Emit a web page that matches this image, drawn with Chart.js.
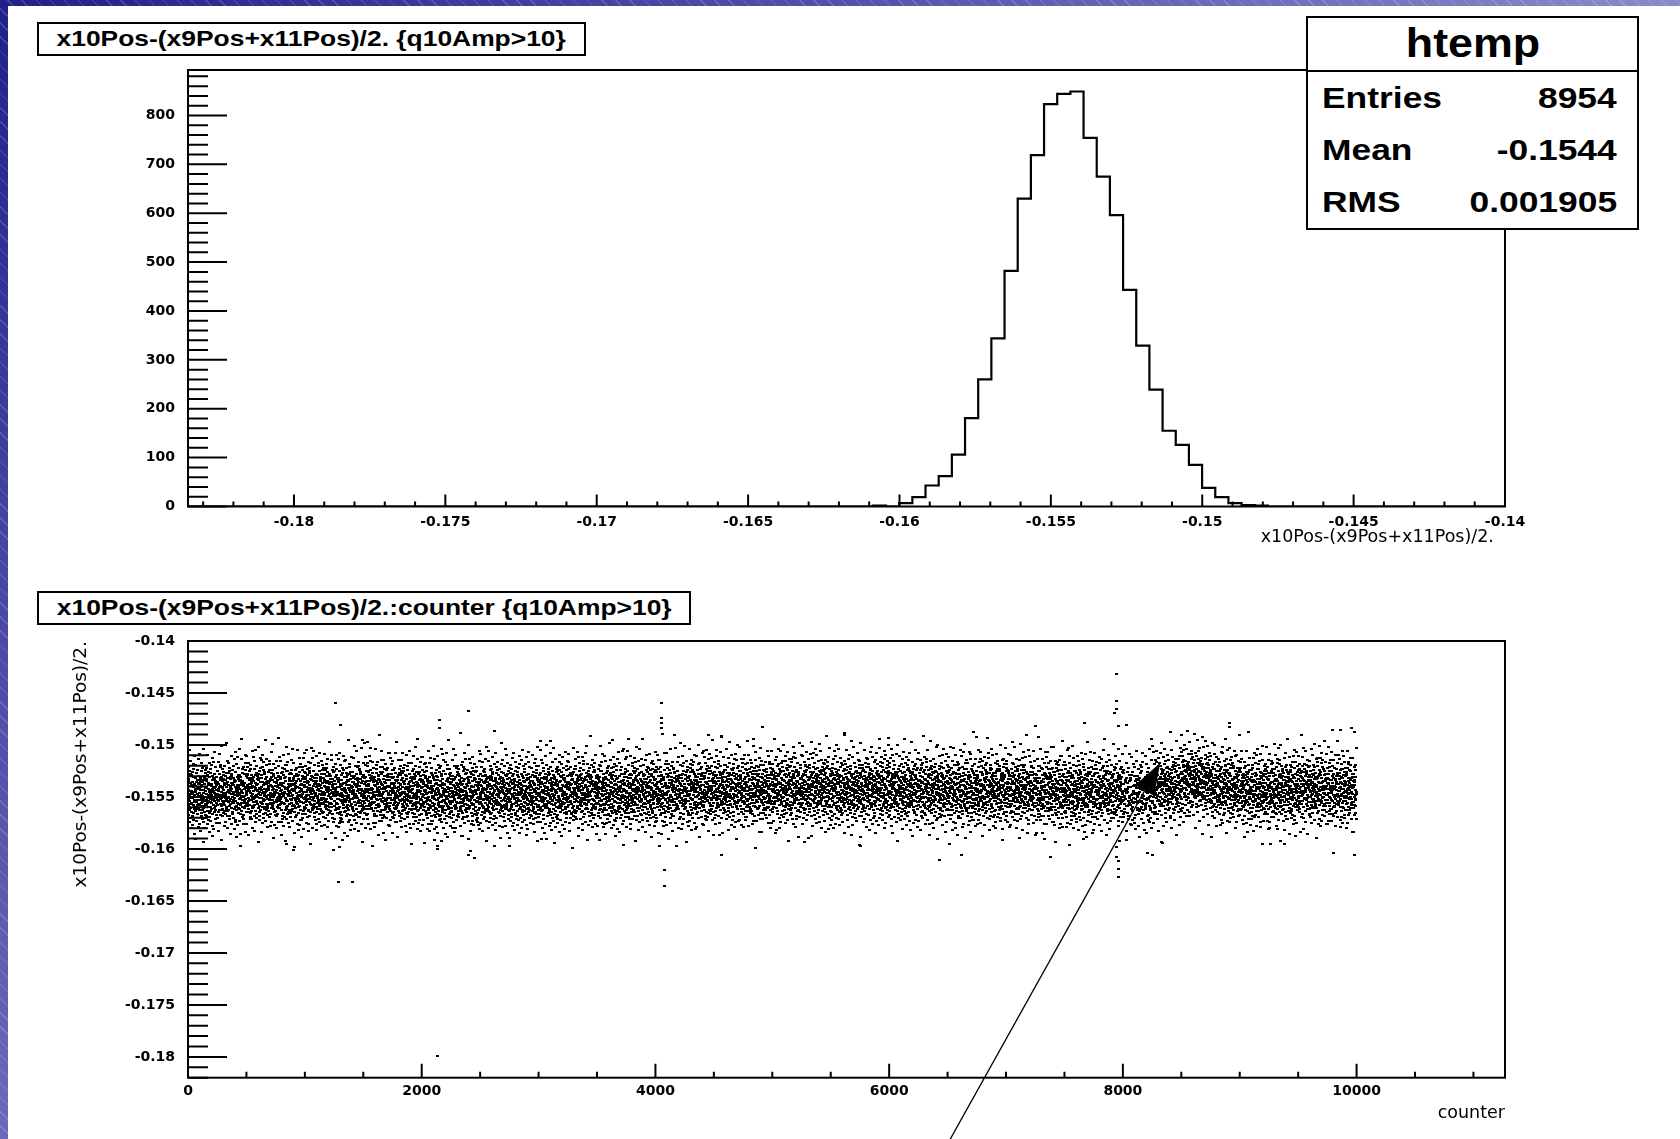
<!DOCTYPE html>
<html>
<head>
<meta charset="utf-8">
<script src="https://cdn.jsdelivr.net/npm/chart.js@4.4.1/dist/chart.umd.min.js"></script>
<style>
  html, body { margin: 0; padding: 0; background: #fff; }
  body { width: 1680px; height: 1139px; position: relative; overflow: hidden; font-family: "Liberation Sans", Arial, sans-serif; }
  .band-top, .band-left { position: absolute; left: 0; top: 0; z-index: 3; }
  .band-top {
    width: 1680px; height: 6px;
    background:
      repeating-linear-gradient(45deg, rgba(255,255,255,0) 0 9px, rgba(255,255,255,.18) 9px 10px),
      linear-gradient(90deg, #20208a 0%, #4c4caa 45%, #8a8ac8 100%);
  }
  .band-left {
    width: 8px; height: 1139px;
    background:
      repeating-linear-gradient(45deg, rgba(255,255,255,0) 0 9px, rgba(255,255,255,.18) 9px 10px),
      linear-gradient(180deg, #20208a 0%, #4646a4 50%, #6a6ab8 100%);
  }
  canvas { position: absolute; left: 0; top: 0; }
  .title-box {
    position: absolute; z-index: 2; box-sizing: border-box;
    border: 2px solid #000; background: #fff;
    font-weight: bold; font-size: 22px; text-align: center; white-space: nowrap;
  }
  .title-box span { display: inline-block; transform: scaleX(1.2); transform-origin: center; }
  #title1 { left: 37px; top: 22px; width: 549px; height: 34px; line-height: 30px; }
  #title2 { left: 37px; top: 591px; width: 654px; height: 34px; line-height: 30px; }
  .stats {
    position: absolute; z-index: 2; box-sizing: border-box;
    left: 1306px; top: 16px; width: 333px; height: 214px;
    border: 2px solid #000; background: #fff; font-weight: bold;
  }
  .stats-head { height: 52px; line-height: 50px; text-align: center; font-size: 40px; border-bottom: 2px solid #000; }
  .stats-head span { display: inline-block; transform: scaleX(1.12); }
  .stats-row { display: flex; justify-content: space-between; height: 52px; line-height: 52px; font-size: 30px; padding: 0 20px 0 14px; }
  .stats-row span { display: inline-block; transform: scaleX(1.18); transform-origin: left center; }
  .stats-row span + span { transform-origin: right center; }
</style>
</head>
<body>
<div class="band-top"></div>
<div class="band-left"></div>
<canvas id="chart-hist" width="1680" height="1139"></canvas>
<canvas id="chart-scat" width="1680" height="1139"></canvas>
<div class="title-box" id="title1"><span>x10Pos-(x9Pos+x11Pos)/2. {q10Amp&gt;10}</span></div>
<div class="title-box" id="title2"><span>x10Pos-(x9Pos+x11Pos)/2.:counter {q10Amp&gt;10}</span></div>
<div class="stats">
  <div class="stats-head"><span>htemp</span></div>
  <div class="stats-row"><span>Entries</span><span>8954</span></div>
  <div class="stats-row"><span>Mean</span><span>-0.1544</span></div>
  <div class="stats-row"><span>RMS</span><span>0.001905</span></div>
</div>
<script>
// Histogramme (100 bins de -0.1835 à -0.14), comptes non nuls à partir du bin 52
const histXMin = -0.1835
const histXMax = -0.14
const histBins = 100
const histYMax = 893
const histFirstBin = 52
const histCounts = [2, 0, 7, 19, 43, 62, 106, 181, 260, 344, 482, 630, 719, 823, 844,
  849, 754, 675, 596, 443, 329, 239, 155, 126, 85, 38, 19, 7, 3, 2]
const histXTicks = [-0.18, -0.175, -0.17, -0.165, -0.16, -0.155, -0.15, -0.145, -0.14]
const histXLabels = ['-0.18', '-0.175', '-0.17', '-0.165', '-0.16', '-0.155', '-0.15', '-0.145', '-0.14']
const histYTicks = [0, 100, 200, 300, 400, 500, 600, 700, 800]

// Nuage x10Pos-(x9Pos+x11Pos)/2. vs counter
const scatXMin = 0
const scatXMax = 11270
const scatYMin = -0.182
const scatYMax = -0.14
const scatXTicks = [0, 2000, 4000, 6000, 8000, 10000]
const scatYTicks = [-0.18, -0.175, -0.17, -0.165, -0.16, -0.155, -0.15, -0.145, -0.14]
const scatYLabels = ['-0.18', '-0.175', '-0.17', '-0.165', '-0.16', '-0.155', '-0.15', '-0.145', '-0.14']
// bande dense : tranches de 250 coups, centre de bande et nombre de points
const scatSegWidth = 250
const scatSegCenter = [
  -0.1547, -0.1546, -0.1545, -0.1546, -0.1545, -0.1546, -0.1545, -0.1546, -0.1547, -0.1547,
  -0.1546, -0.1547, -0.1546, -0.1545, -0.1546, -0.1545, -0.1545, -0.1544, -0.1543, -0.1543,
  -0.1542, -0.1542, -0.1543, -0.1542, -0.1543, -0.1543, -0.1544, -0.1543, -0.1543, -0.1544,
  -0.1545, -0.1544, -0.1547, -0.1540, -0.1535, -0.1541, -0.1543, -0.1543, -0.1542, -0.1543]
const scatSegCount = [
  225, 222, 222, 222, 222, 222, 222, 222, 222, 222,
  222, 222, 222, 222, 222, 222, 222, 222, 222, 222,
  222, 222, 222, 222, 222, 222, 222, 222, 222, 222,
  222, 205, 175, 215, 235, 222, 222, 222, 222, 222]
// points isolés hors de la bande [counter, valeur]
const scatOutliers = [
  [459, -0.1494], [1262, -0.1460], [1305, -0.1481], [1491, -0.1495], [1534, -0.1497],
  [1966, -0.1494], [2156, -0.1476], [2156, -0.1484], [2401, -0.1467], [2627, -0.1487],
  [3101, -0.1496], [3635, -0.1495], [3767, -0.1494], [4054, -0.1460], [4054, -0.1474],
  [4054, -0.1479], [4054, -0.1484], [4159, -0.1490], [4453, -0.1490], [4568, -0.1492],
  [4840, -0.1494], [5622, -0.1490], [5916, -0.1494], [5998, -0.1493], [6745, -0.1492],
  [7275, -0.1492], [7675, -0.1479], [7946, -0.1432], [7946, -0.1458], [7946, -0.1465],
  [7930, -0.1469], [7960, -0.1482], [8030, -0.1481], [8242, -0.1494], [8503, -0.1490],
  [8912, -0.1479], [8912, -0.1483], [9797, -0.1486], [9860, -0.1486], [9986, -0.1488],
  [453, -0.1586], [846, -0.1595], [911, -0.1598], [1245, -0.1601], [1285, -0.1632],
  [1300, -0.1598], [1320, -0.1591], [1409, -0.1632], [2135, -0.1600], [2135, -0.1597],
  [2170, -0.1592], [2135, -0.1799], [2400, -0.1606], [2420, -0.1602], [2751, -0.1597],
  [3029, -0.1590], [4034, -0.1597], [4077, -0.1620], [4077, -0.1636], [4568, -0.1606],
  [5278, -0.1593], [5753, -0.1597], [6433, -0.1611], [6620, -0.1606], [7421, -0.1593],
  [7946, -0.1598], [7946, -0.1608], [7960, -0.1612], [7960, -0.1619], [7960, -0.1627],
  [8210, -0.1604], [8253, -0.1606], [8332, -0.1593], [9266, -0.1595], [9387, -0.1595],
  [9986, -0.1606]]
// flèche d'annotation [counter, valeur]
const arrowFrom = [6523, -0.1879]
const arrowTo = [8320, -0.1517]

Chart.defaults.font.family = '"DejaVu Sans", sans-serif'
Chart.defaults.color = '#000'
Chart.defaults.animation = false

// Cadre + graduations internes façon ROOT
const rootFrame = {
  id: 'rootFrame',
  beforeDatasetsDraw(chart) {
    chart.ctx.save()
    chart.ctx.imageSmoothingEnabled = false
  },
  afterDatasetsDraw(chart) {
    chart.ctx.restore()
  },
  afterDraw(chart, args, o) {
    const { ctx, chartArea: a, scales: { x, y } } = chart
    const each = (scale, minor, ratio, fn) => {
      const k0 = Math.ceil(scale.min / minor - 1e-6)
      const k1 = Math.floor(scale.max / minor + 1e-6)
      for (let k = k0; k <= k1; k++) fn(scale.getPixelForValue(k * minor), Math.abs(k % ratio) === 0)
    }
    ctx.save()
    ctx.strokeStyle = '#000'
    ctx.lineWidth = 2
    ctx.strokeRect(a.left, a.top, a.right - a.left, a.bottom - a.top)
    ctx.beginPath()
    each(x, o.xMinor, o.xRatio, (px, major) => {
      ctx.moveTo(px, a.bottom)
      ctx.lineTo(px, a.bottom - (major ? o.xMajorLen : o.xMinorLen))
    })
    each(y, o.yMinor, o.yRatio, (py, major) => {
      ctx.moveTo(a.left, py)
      ctx.lineTo(a.left + (major ? o.yMajorLen : o.yMinorLen), py)
    })
    ctx.stroke()
    ctx.restore()
  }
}

const arrowNote = {
  id: 'arrowNote',
  afterDraw(chart, args, o) {
    const { ctx, scales: { x, y } } = chart
    const x0 = x.getPixelForValue(o.from[0]), y0 = y.getPixelForValue(o.from[1])
    const x1 = x.getPixelForValue(o.to[0]), y1 = y.getPixelForValue(o.to[1])
    const len = Math.hypot(x1 - x0, y1 - y0)
    const ux = (x1 - x0) / len, uy = (y1 - y0) / len
    const bx = x1 - ux * o.head, by = y1 - uy * o.head
    ctx.save()
    ctx.strokeStyle = '#000'
    ctx.fillStyle = '#000'
    ctx.lineWidth = 1.3
    ctx.beginPath()
    ctx.moveTo(x0, y0)
    ctx.lineTo(bx, by)
    ctx.stroke()
    ctx.beginPath()
    ctx.moveTo(x1, y1)
    ctx.lineTo(bx - uy * o.half, by + ux * o.half)
    ctx.lineTo(bx + uy * o.half, by - ux * o.half)
    ctx.closePath()
    ctx.fill()
    ctx.restore()
  }
}

// Points du histogramme (bords de bins)
const binW = (histXMax - histXMin) / histBins
const histPoints = []
for (let i = 0; i <= histBins; i++) {
  const j = Math.min(i, histBins - 1) - histFirstBin
  histPoints.push({ x: histXMin + i * binW, y: j >= 0 && j < histCounts.length ? histCounts[j] : 0 })
}

// Bande du nuage : valeurs réparties selon la forme du histogramme, décalées au centre de chaque tranche
const histTotal = histCounts.reduce((s, c) => s + c, 0)
const histMean = histCounts.reduce((s, c, i) => s + c * (histXMin + (histFirstBin + i + 0.5) * binW), 0) / histTotal
function histQuantile(w) {
  const target = w * histTotal
  let acc = 0
  for (let i = 0; i < histCounts.length; i++) {
    const c = histCounts[i]
    if (c && acc + c >= target) return histXMin + (histFirstBin + i + (target - acc) / c) * binW
    acc += c
  }
  return histXMax
}
// suite de Halton (répartition régulière, pas d'aléatoire)
function radInv(i, b) {
  let f = 1, r = 0
  while (i > 0) { f /= b; r += f * (i % b); i = Math.floor(i / b) }
  return r
}
const scatPoints = []
let k = 1
scatSegCount.forEach((n, s) => {
  for (let i = 0; i < n; i++, k++) {
    scatPoints.push({
      x: (s + radInv(k, 2)) * scatSegWidth,
      y: histQuantile(radInv(k, 3)) + scatSegCenter[s] - histMean,
    })
  }
})
scatOutliers.forEach(([x, y]) => scatPoints.push({ x, y }))

// marqueur point ROOT : petit carré net (image étirée en largeur comme la copie d'écran)
const dot = document.createElement('canvas')
dot.width = 3
dot.height = 2
dot.getContext('2d').fillRect(0, 0, 3, 2)

const tickFont = { size: 14, weight: 'bold' }
const titleFont = { size: 17.5 }

new Chart(document.getElementById('chart-hist'), {
  type: 'line',
  data: {
    datasets: [{
      data: histPoints,
      stepped: true,
      borderColor: '#000',
      borderWidth: 2.2,
      pointRadius: 0,
      fill: false,
    }],
  },
  options: {
    responsive: false,
    events: [],
    layout: { padding: { left: 0, top: 70, right: 175, bottom: 582.5 } },
    plugins: {
      legend: { display: false },
      tooltip: { enabled: false },
      rootFrame: { xMinor: 0.001, xRatio: 5, xMajorLen: 12, xMinorLen: 5, yMinor: 20, yRatio: 5, yMajorLen: 39, yMinorLen: 20 },
    },
    scales: {
      x: {
        type: 'linear', min: histXMin, max: histXMax,
        afterBuildTicks: s => { s.ticks = histXTicks.map(v => ({ value: v })) },
        afterFit: s => { s.height = 50 },
        ticks: { callback: (v, i) => histXLabels[i], font: tickFont, padding: 7, maxRotation: 0, autoSkip: false },
        grid: { display: false, drawTicks: false },
        border: { display: false },
        title: { display: true, text: 'x10Pos-(x9Pos+x11Pos)/2.  ', align: 'end', font: titleFont, padding: { top: 0, bottom: 9 } },
      },
      y: {
        type: 'linear', min: 0, max: histYMax,
        afterBuildTicks: s => { s.ticks = histYTicks.map(v => ({ value: v })) },
        afterFit: s => { s.width = 188 },
        ticks: { font: tickFont, padding: 13, autoSkip: false },
        grid: { display: false, drawTicks: false },
        border: { display: false },
      },
    },
  },
  plugins: [rootFrame],
})

new Chart(document.getElementById('chart-scat'), {
  type: 'scatter',
  data: {
    datasets: [{
      data: scatPoints,
      pointStyle: dot,
      pointRadius: 1,
      borderWidth: 0,
      backgroundColor: '#000',
    }],
  },
  options: {
    responsive: false,
    events: [],
    parsing: false,
    layout: { padding: { left: 0, top: 641, right: 175, bottom: 11.3 } },
    plugins: {
      legend: { display: false },
      tooltip: { enabled: false },
      rootFrame: { xMinor: 500, xRatio: 4, xMajorLen: 14, xMinorLen: 6, yMinor: 0.001, yRatio: 5, yMajorLen: 39, yMinorLen: 20 },
      arrowNote: { from: arrowFrom, to: arrowTo, head: 32, half: 11 },
    },
    scales: {
      x: {
        type: 'linear', min: scatXMin, max: scatXMax,
        afterBuildTicks: s => { s.ticks = scatXTicks.map(v => ({ value: v })) },
        afterFit: s => { s.height = 50 },
        ticks: { font: tickFont, padding: 5, maxRotation: 0, autoSkip: false, callback: v => String(v) },
        grid: { display: false, drawTicks: false },
        border: { display: false },
        title: { display: true, text: 'counter', align: 'end', font: titleFont, padding: { top: 0, bottom: 4 } },
      },
      y: {
        type: 'linear', min: scatYMin, max: scatYMax,
        afterBuildTicks: s => { s.ticks = scatYTicks.map(v => ({ value: v })) },
        afterFit: s => { s.width = 188 },
        ticks: { callback: (v, i) => scatYLabels[i], font: tickFont, padding: 13, autoSkip: false },
        grid: { display: false, drawTicks: false },
        border: { display: false },
        title: { display: true, text: 'x10Pos-(x9Pos+x11Pos)/2.', align: 'end', font: { size: 18.5 }, padding: { top: 70, bottom: 0 } },
      },
    },
  },
  plugins: [rootFrame, arrowNote],
})
</script>
</body>
</html>
